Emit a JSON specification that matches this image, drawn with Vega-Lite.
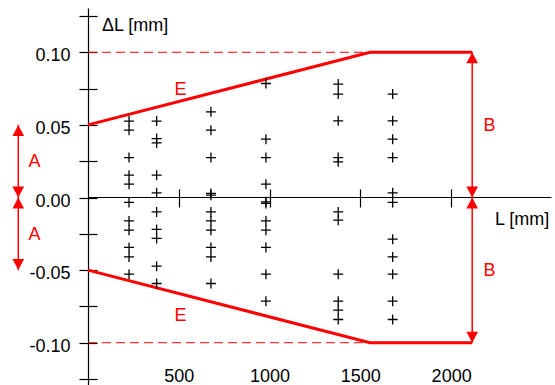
{
  "$schema": "https://vega.github.io/schema/vega-lite/v6.json",
  "width": 463,
  "height": 378,
  "autosize": "none",
  "padding": {"left": 88, "top": 8, "right": 4, "bottom": 0},
  "background": "white",
  "config": {
    "view": {"stroke": null},
    "font": "Liberation Sans",
    "axis": {
      "grid": false,
      "domainColor": "black",
      "tickColor": "black",
      "labelColor": "black",
      "titleColor": "black",
      "labelFont": "Liberation Sans",
      "titleFont": "Liberation Sans",
      "labelFontSize": 18,
      "titleFontSize": 18,
      "titleFontWeight": "normal",
      "domainWidth": 1.2,
      "tickWidth": 1.2,
      "labelOverlap": false,
      "labelFlush": false,
      "labelBound": false
    }
  },
  "datasets": {
    "pts": [
      {"L": 226, "dL": 0.0526}, {"L": 226, "dL": 0.0464}, {"L": 226, "dL": 0.0275}, {"L": 226, "dL": 0.0154}, {"L": 226, "dL": 0.0092}, {"L": 226, "dL": -0.0034}, {"L": 226, "dL": -0.0161}, {"L": 226, "dL": -0.0225}, {"L": 226, "dL": -0.0344}, {"L": 226, "dL": -0.0409}, {"L": 226, "dL": -0.0528},
      {"L": 378, "dL": 0.0526}, {"L": 378, "dL": 0.0406}, {"L": 378, "dL": 0.0376}, {"L": 378, "dL": 0.0154}, {"L": 378, "dL": 0.0032}, {"L": 378, "dL": -0.0099}, {"L": 378, "dL": -0.0220}, {"L": 378, "dL": -0.0282}, {"L": 378, "dL": -0.0473}, {"L": 378, "dL": -0.0592},
      {"L": 677, "dL": 0.0590}, {"L": 677, "dL": 0.0464}, {"L": 677, "dL": 0.0275}, {"L": 677, "dL": 0.0028}, {"L": 677, "dL": 0.0016}, {"L": 677, "dL": -0.0099}, {"L": 677, "dL": -0.0161}, {"L": 677, "dL": -0.0225}, {"L": 677, "dL": -0.0344}, {"L": 677, "dL": -0.0409}, {"L": 677, "dL": -0.0592},
      {"L": 980, "dL": 0.0785}, {"L": 980, "dL": 0.0402}, {"L": 980, "dL": 0.0275}, {"L": 980, "dL": 0.0092}, {"L": 980, "dL": -0.0030}, {"L": 980, "dL": -0.0041}, {"L": 980, "dL": -0.0161}, {"L": 980, "dL": -0.0225}, {"L": 980, "dL": -0.0344}, {"L": 980, "dL": -0.0528}, {"L": 980, "dL": -0.0714},
      {"L": 1378, "dL": 0.0781}, {"L": 1378, "dL": 0.0712}, {"L": 1378, "dL": 0.0528}, {"L": 1378, "dL": 0.0275}, {"L": 1378, "dL": 0.0246}, {"L": 1378, "dL": -0.0099}, {"L": 1378, "dL": -0.0156}, {"L": 1378, "dL": -0.0528}, {"L": 1378, "dL": -0.0714}, {"L": 1378, "dL": -0.0776}, {"L": 1378, "dL": -0.0840},
      {"L": 1678, "dL": 0.0712}, {"L": 1678, "dL": 0.0528}, {"L": 1678, "dL": 0.0402}, {"L": 1678, "dL": 0.0275}, {"L": 1678, "dL": 0.0032}, {"L": 1678, "dL": -0.0034}, {"L": 1678, "dL": -0.0287}, {"L": 1678, "dL": -0.0409}, {"L": 1678, "dL": -0.0528}, {"L": 1678, "dL": -0.0714}, {"L": 1678, "dL": -0.0840}
    ],
    "dash": [
      {"L": 0, "dL": 0.1, "side": "upper"}, {"L": 1553, "dL": 0.1, "side": "upper"},
      {"L": 0, "dL": -0.1, "side": "lower"}, {"L": 1553, "dL": -0.1, "side": "lower"}
    ],
    "env": [
      {"L": 0, "dL": 0.05, "side": "upper"}, {"L": 1553, "dL": 0.1, "side": "upper"}, {"L": 2116, "dL": 0.1, "side": "upper"},
      {"L": 0, "dL": -0.05, "side": "lower"}, {"L": 1553, "dL": -0.1, "side": "lower"}, {"L": 2116, "dL": -0.1, "side": "lower"}
    ],
    "arrows": [
      {"L": -384, "y1": -0.05, "y2": 0.05},
      {"L": 2116, "y1": -0.1, "y2": 0.1}
    ],
    "heads": [
      {"L": -384, "dL": 0.05, "dir": "up"}, {"L": -384, "dL": 0, "dir": "down"},
      {"L": -384, "dL": 0, "dir": "up"}, {"L": -384, "dL": -0.05, "dir": "down"},
      {"L": 2116, "dL": 0.1, "dir": "up"}, {"L": 2116, "dL": 0, "dir": "down"},
      {"L": 2116, "dL": 0, "dir": "up"}, {"L": 2116, "dL": -0.1, "dir": "down"}
    ],
    "labels": [
      {"L": -295, "dL": 0.025, "t": "A"}, {"L": -295, "dL": -0.025, "t": "A"},
      {"L": 2211, "dL": 0.05, "t": "B"}, {"L": 2211, "dL": -0.05, "t": "B"},
      {"L": 509, "dL": 0.075, "t": "E"}, {"L": 509, "dL": -0.081, "t": "E"}
    ]
  },
  "resolve": {"axis": {"x": "independent", "y": "independent"}},
  "layer": [
    {
      "data": {"name": "dash"},
      "mark": {"type": "line", "color": "#ff0000", "strokeWidth": 1, "strokeDash": [9, 5]},
      "encoding": {
        "x": {
          "field": "L", "type": "quantitative",
          "scale": {"domain": [0, 2550], "nice": false, "zero": false},
          "axis": {
            "orient": "bottom", "offset": -189, "values": [500, 1000, 1500, 2000],
            "domain": true, "ticks": true, "tickSize": 10, "labels": false,
            "title": "L [mm]", "titleX": 406.5, "titleY": 27, "titleAlign": "left",
            "titleBaseline": "alphabetic", "titleAngle": 0
          }
        },
        "y": {
          "field": "dL", "type": "quantitative",
          "scale": {"domain": [-0.1298, 0.1305], "nice": false, "zero": false},
          "axis": {
            "orient": "left",
            "values": [-0.125, -0.1, -0.075, -0.05, -0.025, 0, 0.025, 0.05, 0.075, 0.1, 0.125],
            "domain": true, "ticks": true, "tickSize": 9, "labelPadding": 9, "labelOffset": 3.5,
            "labelExpr": "abs(datum.value*20 - round(datum.value*20)) < 0.01 ? (datum.value < -0.001 ? '-' : '') + format(abs(datum.value), '.2f') : ''",
            "title": "ΔL [mm]", "titleX": 13.5, "titleY": 22.5, "titleAlign": "left",
            "titleBaseline": "alphabetic", "titleAngle": 0
          }
        },
        "detail": {"field": "side"}
      }
    },
    {
      "data": {"name": "env"},
      "mark": {"type": "line", "color": "#ff0000", "strokeWidth": 3},
      "encoding": {
        "x": {
          "field": "L", "type": "quantitative",
          "scale": {"domain": [0, 2550], "nice": false, "zero": false},
          "axis": {
            "orient": "bottom", "offset": -189, "values": [500, 1000, 1500, 2000],
            "domain": false, "ticks": true, "tickSize": -8, "labels": false, "title": null
          }
        },
        "y": {
          "field": "dL", "type": "quantitative",
          "scale": {"domain": [-0.1298, 0.1305], "nice": false, "zero": false},
          "axis": {
            "orient": "left",
            "values": [-0.125, -0.1, -0.075, -0.05, -0.025, 0, 0.025, 0.05, 0.075, 0.1, 0.125],
            "domain": false, "ticks": true, "tickSize": -9, "labels": false, "title": null
          }
        },
        "detail": {"field": "side"}
      }
    },
    {
      "data": {"name": "pts"},
      "mark": {"type": "point", "shape": "M-1,0L1,0M0,-1L0,1", "filled": false, "color": "black", "strokeWidth": 1.3, "size": 100, "opacity": 1},
      "encoding": {
        "x": {
          "field": "L", "type": "quantitative",
          "scale": {"domain": [0, 2550], "nice": false, "zero": false},
          "axis": {
            "orient": "bottom", "offset": -10, "values": [500, 1000, 1500, 2000], "format": "d",
            "domain": false, "ticks": false, "tickSize": 0, "labels": true,
            "labelPadding": 0, "labelBaseline": "middle", "title": null
          }
        },
        "y": {
          "field": "dL", "type": "quantitative",
          "scale": {"domain": [-0.1298, 0.1305], "nice": false, "zero": false},
          "axis": null
        }
      }
    },
    {
      "data": {"name": "arrows"},
      "mark": {"type": "rule", "color": "#ff0000", "strokeWidth": 1.5},
      "encoding": {
        "x": {"field": "L", "type": "quantitative", "scale": {"domain": [0, 2550], "nice": false, "zero": false}, "axis": null},
        "y": {"field": "y1", "type": "quantitative", "scale": {"domain": [-0.1298, 0.1305], "nice": false, "zero": false}, "axis": null},
        "y2": {"field": "y2"}
      }
    },
    {
      "data": {"name": "heads"},
      "mark": {"type": "point", "filled": true, "color": "#ff0000", "size": 135, "opacity": 1, "strokeWidth": 0},
      "encoding": {
        "x": {"field": "L", "type": "quantitative", "scale": {"domain": [0, 2550], "nice": false, "zero": false}, "axis": null},
        "y": {"field": "dL", "type": "quantitative", "scale": {"domain": [-0.1298, 0.1305], "nice": false, "zero": false}, "axis": null},
        "shape": {
          "field": "dir", "type": "nominal",
          "scale": {"domain": ["up", "down"], "range": ["M0,0L-1,1.9L1,1.9Z", "M0,0L-1,-1.9L1,-1.9Z"]},
          "legend": null
        }
      }
    },
    {
      "data": {"name": "labels"},
      "mark": {"type": "text", "color": "#ff0000", "font": "Liberation Sans", "fontSize": 18, "align": "center", "baseline": "middle", "dy": 1},
      "encoding": {
        "x": {"field": "L", "type": "quantitative", "scale": {"domain": [0, 2550], "nice": false, "zero": false}, "axis": null},
        "y": {"field": "dL", "type": "quantitative", "scale": {"domain": [-0.1298, 0.1305], "nice": false, "zero": false}, "axis": null},
        "text": {"field": "t"}
      }
    }
  ]
}
